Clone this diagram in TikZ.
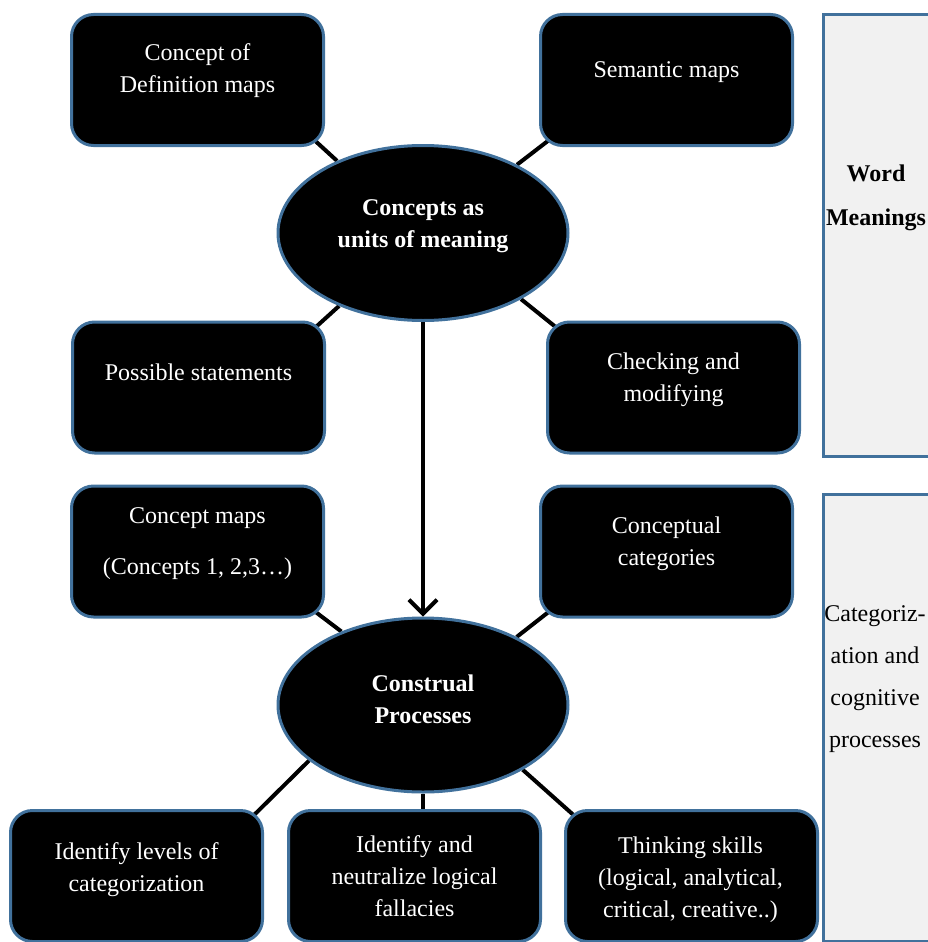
\documentclass[tikz,border=0pt]{standalone}
\usepackage{fontspec}
\setmainfont{Liberation Serif}
\usetikzlibrary{calc,arrows.meta,shapes.geometric}
\pgfdeclarelayer{background}
\pgfsetlayers{background,main}
\definecolor{bblue}{HTML}{41719C}
\definecolor{pgray}{HTML}{F1F1F1}
\begin{document}
\begin{tikzpicture}[x=1pt,y=-1pt,
  bbox/.style={draw=bblue,line width=3pt,fill=black,rounded corners=22pt,minimum width=252pt,minimum height=131pt,inner sep=0pt},
  btxt/.style={text=white,align=center,font=\fontsize{24}{32}\selectfont,inner sep=0pt},
  ell/.style={ellipse,draw=bblue,line width=3pt,fill=black,minimum width=290pt,minimum height=175pt,inner sep=0pt},
  etxt/.style={text=white,align=center,font=\fontsize{24}{32}\selectfont\bfseries,inner sep=0pt},
  panel/.style={draw=bblue,line width=3pt,fill=pgray,anchor=north west,inner sep=0pt},
  conn/.style={line width=4pt,black}]
\useasboundingbox (0,0) rectangle (928,942);
% boxes
\node[bbox] (cdm) at (197.5,80) {};
\node[bbox] (sem) at (666.5,80) {};
\node[bbox] (pos) at (198.5,387.5) {};
\node[bbox] (chk) at (673.5,387.5) {};
\node[bbox] (cmap) at (197.5,551.5) {};
\node[bbox] (ccat) at (666.5,551.5) {};
\node[bbox] (idl) at (136.5,876) {};
\node[bbox] (ian) at (414.5,876) {};
\node[bbox] (ts) at (691.5,876) {};
% box texts
\node[btxt] (cdmT) at ([yshift=9pt]cdm.center) {Concept of\\Definition maps};
\node[btxt] (semT) at ([yshift=8pt]sem.center) {Semantic maps};
\node[btxt] (posT) at ([yshift=15.5pt]pos.center) {Possible statements};
\node[btxt] (chkT) at ([yshift=7.5pt]chk.center) {Checking and\\modifying};
\node[btxt] (cmapT) at ([yshift=7.5pt]cmap.center) {Concept maps\\[19pt](Concepts 1, 2,3…)};
\node[btxt] (ccatT) at ([yshift=7.5pt]ccat.center) {Conceptual\\categories};
\node[btxt] (idlT) at ([yshift=6pt]idl.center) {Identify levels of\\categorization};
\node[btxt] (ianT) at ([yshift=0pt]ian.center) {Identify and\\neutralize logical\\fallacies};
\node[btxt] (tsT) at ([yshift=-4pt,xshift=-1pt]ts.center) {Thinking skills\\(logical, analytical,\\critical, creative..)};
% ellipses
\node[ell] (top) at (423,233) {};
\node[etxt] (topT) at ([yshift=7pt]top.center) {Concepts as\\units of meaning};
\node[ell,minimum height=174pt] (bot) at (423,705) {};
\node[etxt] (botT) at ([yshift=6pt]bot.center) {Construal\\Processes};
% side panels
\node[panel,minimum width=118pt,minimum height=442pt] (wm) at (822,13) {};
\node[align=center,font=\fontsize{24}{44}\selectfont\bfseries,inner sep=0pt] (wmT) at (876,198) {Word\\Meanings};
\node[panel,minimum width=118pt,minimum height=447pt] (cat) at (822,493) {};
\node[align=center,font=\fontsize{24}{42}\selectfont,inner sep=0pt] (catT) at (875,679) {Categoriz-\\ation and\\cognitive\\processes};
% connectors
\begin{pgfonlayer}{background}
\draw[conn] (top.140) -- ($(cdm.south east)+(-14,-10)$);
\draw[conn] (top.36) -- ($(sem.south west)+(14,-10)$);
\draw[conn] (top.221) -- ($(pos.north east)+(-14,10)$);
\draw[conn] (top.326) -- ($(chk.north west)+(14,10)$);
\draw[conn] (bot.138) -- ($(cmap.south east)+(-14,-10)$);
\draw[conn] (bot.36) -- ($(ccat.south west)+(14,-10)$);
\draw[conn] (bot.206) -- ($(idl.north east)+(-14,10)$);
\draw[conn] (bot.south) -- ($(bot.south |- ian.north)+(0,10)$);
\draw[conn] (bot.327) -- ($(ts.north west)+(14,10)$);
\end{pgfonlayer}
\draw[line width=4pt,-{Straight Barb[length=14pt,width=28pt]}] (top.south) -- (bot.north);
\end{tikzpicture}
\end{document}
